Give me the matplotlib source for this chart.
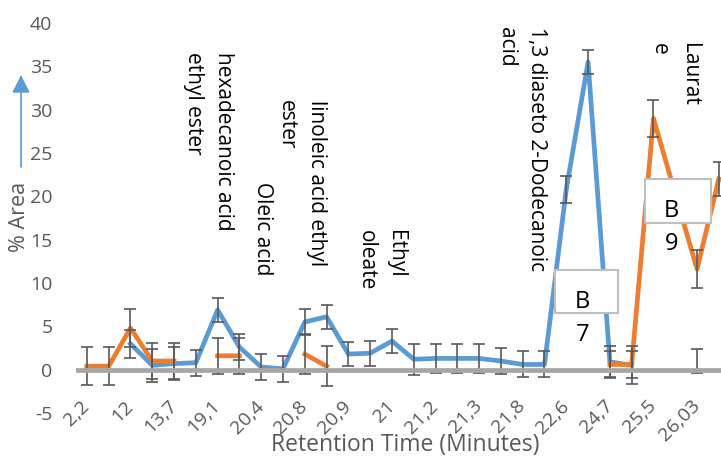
import numpy as np
import matplotlib
matplotlib.use("Agg")
import matplotlib.pyplot as plt
from matplotlib.patches import Rectangle, FancyArrowPatch

nan = np.nan

# ---- data ----
tick_labels = ["2,2", "12", "13,7", "19,1", "20,4", "20,8", "20,9", "21",
               "21,2", "21,3", "21,8", "22,6", "24,7", "25,5", "26,03"]

blue_values = [nan, nan, 3.0, 0.5, 0.7, 0.8, 6.9, 2.6, 0.3, 0.1,
               5.5, 6.1, 1.8, 1.9, 3.3, 1.2, 1.3, 1.3, 1.3, 1.0,
               0.6, 0.6, 20.8, 35.5, 0.9, 0.5, nan, nan, 1.0, nan]
blue_err = [nan, nan, 1.6, 1.9, 1.9, 1.5, 1.4, 1.5, 1.5, 1.5,
            1.5, 1.4, 1.4, 1.45, 1.4, 1.8, 1.7, 1.7, 1.7, 1.5,
            1.5, 1.5, 1.55, 1.4, 1.8, 2.2, nan, nan, 1.4, nan]

orange_values = [0.4, 0.4, 4.8, 1.0, 1.0, nan, 1.6, 1.6, nan, nan,
                 1.8, 0.4, nan, nan, nan, nan, nan, nan, nan, nan,
                 nan, nan, nan, nan, 0.6, 0.6, 29.0, 20.3, 11.6, 22.0]
orange_err = [2.2, 2.2, 2.2, 2.1, 2.1, nan, 2.1, 2.1, nan, nan,
              2.3, 2.3, nan, nan, nan, nan, nan, nan, nan, nan,
              nan, nan, nan, nan, 1.6, 1.6, 2.1, 1.5, 2.2, 2.0]

compound_labels = ["hexadecanoic acid\nethyl ester", "Oleic acid",
                   "linoleic acid ethyl\nester", "Ethyl\noleate",
                   "1,3 diaseto 2-Dodecanoic\nacid", "Laurat\ne"]
compound_pos = [(5.58, 36.7), (8.08, 21.7), (9.84, 31.1), (13.5, 16.1),
                (19.94, 39.5), (26.96, 37.7)]

box_texts = ["B\n7", "B\n9"]
box_rects = [(21.48, 6.54, 2.89, 4.96), (25.63, 16.88, 3.02, 5.09)]
box_text_pos = [(22.76, 5.9), (26.82, 16.4)]

BLUE = "#5B9BD5"
ORANGE = "#ED7D31"
GRAY_TXT = "#595959"

plt.rcParams['font.family'] = ['Open Sans', 'DejaVu Sans']
plt.rcParams['axes.unicode_minus'] = False

fig = plt.figure(figsize=(7.21, 4.59), dpi=100)
ax = fig.add_axes([76/721, 46/459, 645/721, 390/459])

x = np.arange(len(blue_values))
ax.plot(x, blue_values, color=BLUE, lw=3.4, zorder=2)
ax.plot(x, orange_values, color=ORANGE, lw=3.4, zorder=2.1)
ax.errorbar(x, blue_values, yerr=blue_err, fmt='none', ecolor=GRAY_TXT,
            elinewidth=1.2, capsize=4.3, capthick=1.2, zorder=3)
ax.errorbar(x, orange_values, yerr=orange_err, fmt='none', ecolor=GRAY_TXT,
            elinewidth=1.2, capsize=4.3, capthick=1.2, zorder=3)
ax.axhline(0, color="#A6A6A6", lw=3.4, zorder=4)

ax.set_xlim(-0.5, 29.1)
ax.set_ylim(-5, 40)
ax.set_yticks(np.arange(-5, 41, 5))
ax.set_xticks(np.arange(0, len(blue_values), 2), tick_labels)
for s in ax.spines.values():
    s.set_visible(False)
ax.tick_params(axis='both', length=0, labelcolor=GRAY_TXT, labelsize=14)
ax.tick_params(axis='y', pad=17)
ax.tick_params(axis='x', pad=-7)
for lbl in ax.get_xticklabels():
    lbl.set_rotation(45)
    lbl.set_ha('right')
    lbl.set_va('center')
    lbl.set_rotation_mode('anchor')

ax.set_ylabel("% Area", color=GRAY_TXT, fontsize=15.5, va='center')
ax.yaxis.set_label_coords(-0.087, 0.503)
ax.set_xlabel("Retention Time (Minutes)", color=GRAY_TXT, fontsize=16.5, va='center')
ax.xaxis.set_label_coords(0.51, -0.083)

for txt, (tx, ty) in zip(compound_labels, compound_pos):
    ax.text(tx, ty, txt, rotation=270, ha='center', va='top',
            multialignment='left', fontsize=15, color='black',
            linespacing=1.53, zorder=6)

for (rx, ry, rw, rh), txt, (tx, ty) in zip(box_rects, box_texts, box_text_pos):
    ax.add_patch(Rectangle((rx, ry), rw, rh, facecolor='white',
                           edgecolor='#BFBFBF', lw=1.5, zorder=5))
    ax.text(tx, ty, txt, ha='center', va='center', fontsize=17,
            color='black', linespacing=1.45, zorder=6)

arrow = FancyArrowPatch((21/721, 1-167/459), (21/721, 1-75/459),
                        transform=fig.transFigure, arrowstyle='-|>',
                        mutation_scale=27, color=BLUE, lw=1.2,
                        shrinkA=0, shrinkB=0)
fig.patches.append(arrow)

fig.savefig("out.png", dpi=100)
